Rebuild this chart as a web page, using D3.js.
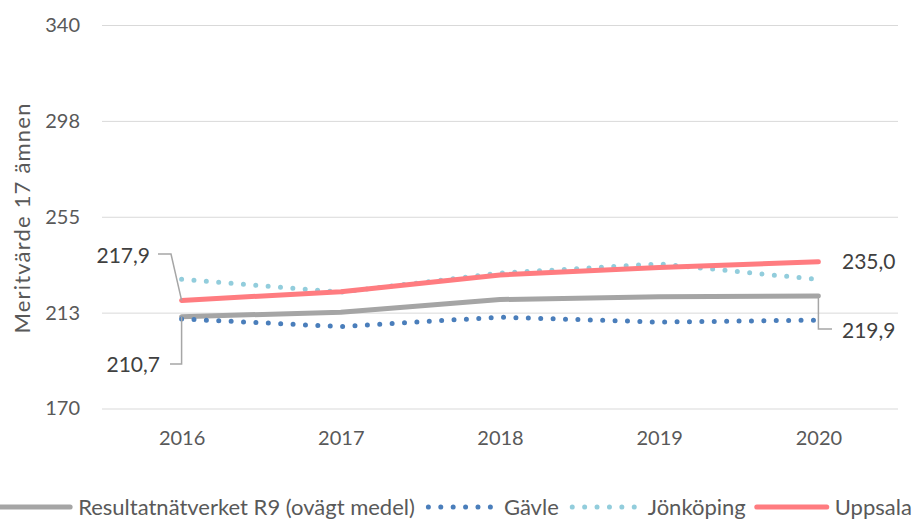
<!DOCTYPE html>
<html>
<head>
<meta charset="utf-8">
<script src="https://cdn.jsdelivr.net/npm/d3@7"></script>
<style>
  body { margin: 0; background: #fff; }
  svg { display: block; font-family: Lato, "Open Sans", sans-serif; }
</style>
</head>
<body>
<div id="chart"></div>
<script>
// data
var years = ["2016", "2017", "2018", "2019", "2020"];
var r9 = [210.7, 212.7, 218.3, 219.5, 219.9];
var gavle = [209.7, 206.3, 210.5, 208.3, 209.2];
var jonkoping = [227.3, 221.6, 230.0, 234.1, 227.2];
var uppsala = [217.9, 221.8, 229.2, 232.5, 235.0];
var yTicks = [170, 212.5, 255, 297.5, 340];

var series = [
  { name: "Resultatnätverket R9 (ovägt medel)", values: r9, color: "#a5a5a5", dotted: false },
  { name: "Gävle", values: gavle, color: "#4a7ebb", dotted: true },
  { name: "Jönköping", values: jonkoping, color: "#92cddc", dotted: true },
  { name: "Uppsala", values: uppsala, color: "#ff7c80", dotted: false }
];

var svgWidth = 915;
var svgHeight = 524;

var svg = d3.select("#chart")
  .append("svg")
  .attr("width", svgWidth)
  .attr("height", svgHeight);

var x = d3.scalePoint()
  .domain(years)
  .range([102, 898])
  .padding(0.5);

var y = d3.scaleLinear()
  .domain([170, 340])
  .range([408.5, 25]);

// y axis + gridlines
var yAxis = svg.append("g")
  .attr("transform", "translate(102,0)")
  .call(d3.axisLeft(y)
    .tickValues(yTicks)
    .tickSize(-796)
    .tickPadding(22)
    .tickFormat(d => Math.round(d)));
yAxis.select(".domain").remove();
yAxis.selectAll("line").attr("stroke", "#d9d9d9").attr("stroke-width", 1);
yAxis.selectAll("text")
  .attr("fill", "#595959")
  .style("font-size", "20px")
  .style("font-family", "Lato, sans-serif");

// x axis labels
var xAxis = svg.append("g")
  .attr("transform", "translate(0,408.5)")
  .call(d3.axisBottom(x).tickSize(0).tickPadding(22));
xAxis.select(".domain").remove();
xAxis.selectAll("text")
  .attr("fill", "#595959")
  .style("font-size", "20px")
  .style("font-family", "Lato, sans-serif");

// axis title
svg.append("text")
  .attr("transform", "translate(30,218) rotate(-90)")
  .attr("text-anchor", "middle")
  .attr("fill", "#595959")
  .style("font-size", "22px")
  .style("letter-spacing", "1.2px")
  .text("Meritvärde 17 ämnen");

var line = d3.line()
  .x((d, i) => x(years[i]))
  .y(d => y(d));

function styleLine(sel, s) {
  sel.attr("fill", "none")
    .attr("stroke", s.color)
    .attr("stroke-width", 5)
    .attr("stroke-linecap", "round")
    .attr("stroke-linejoin", "round");
  if (s.dotted) sel.attr("stroke-dasharray", "0 12.4");
}

// draw order: R9, Gävle, Jönköping, Uppsala
series.forEach(function(s) {
  svg.append("path")
    .datum(s.values)
    .attr("d", line)
    .call(styleLine, s);
});

// data labels with leader lines
var leader = svg.append("g")
  .attr("fill", "none")
  .attr("stroke", "#a6a6a6")
  .attr("stroke-width", 1.5);

var x0 = x(years[0]);
var x4 = x(years[4]);

leader.append("path")
  .attr("d", `M158,254 L171,254 L${x0},${y(uppsala[0])}`);
leader.append("path")
  .attr("d", `M170,364 L${x0},364 L${x0},${y(r9[0])}`);
leader.append("path")
  .attr("d", `M${x4},${y(r9[4])} L${x4},329 L832,329`);

var fmt = v => v.toFixed(1).replace(".", ",");

var labels = [
  { v: uppsala[0], x: 150, y: 256, anchor: "end" },
  { v: r9[0], x: 160, y: 365, anchor: "end" },
  { v: uppsala[4], x: 842, y: 262, anchor: "start" },
  { v: r9[4], x: 842, y: 331, anchor: "start" }
];

svg.selectAll(".dlabel")
  .data(labels)
  .enter()
  .append("text")
  .attr("class", "dlabel")
  .attr("x", d => d.x)
  .attr("y", d => d.y)
  .attr("dy", "0.35em")
  .attr("text-anchor", d => d.anchor)
  .attr("fill", "#404040")
  .style("font-size", "21px")
  .text(d => fmt(d.v));

// legend (wider than the page, centred, clipped at the sides like the original)
var legend = svg.append("g");
var items = legend.selectAll("g")
  .data(series)
  .enter()
  .append("g");

items.append("text")
  .attr("x", 78)
  .attr("y", 507)
  .attr("dy", "0.35em")
  .attr("fill", "#595959")
  .style("font-size", "22px")
  .text(d => d.name);

var pos = 0;
var offsets = [];
items.each(function() {
  var w = d3.select(this).select("text").node().getComputedTextLength();
  offsets.push(pos);
  pos += 78 + w + 11;
});
var total = pos - 11;
var start = 456 - total / 2;

items.attr("transform", (d, i) => `translate(${start + offsets[i]},0)`);

items.append("path")
  .attr("d", d => d.dotted ? "M2.5,507 L65.5,507" : "M0,507 L70,507")
  .each(function(d) { d3.select(this).call(styleLine, d); });
</script>
</body>
</html>
